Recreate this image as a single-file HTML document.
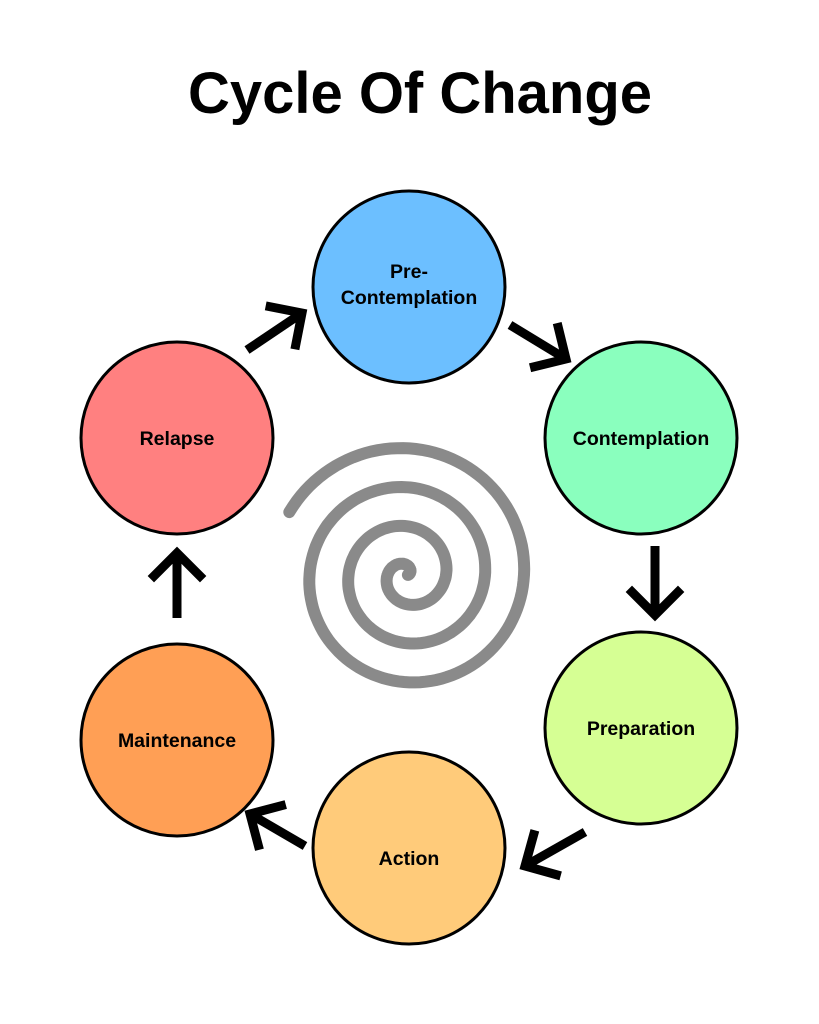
<!DOCTYPE html>
<html><head><style>
body{margin:0;background:#fff;}
svg{display:block}
text{font-family:"Liberation Sans",sans-serif;font-weight:bold;}
</style></head><body>
<svg width="819" height="1024" viewBox="0 0 819 1024">
<text x="420" y="113" font-size="58" text-anchor="middle" fill="#000">Cycle Of Change</text>
<path id="sp" fill="none" stroke="#8a8a8a" stroke-width="12" stroke-linecap="round" d=""/>
<g stroke="#000" stroke-width="3">
<circle cx="409" cy="287" r="96" fill="#6cbfff"/>
<circle cx="641" cy="438" r="96" fill="#8affbe"/>
<circle cx="641" cy="728" r="96" fill="#d6ff94"/>
<circle cx="409" cy="848" r="96" fill="#ffcb7a"/>
<circle cx="177" cy="740" r="96" fill="#ff9f55"/>
<circle cx="177" cy="438" r="96" fill="#ff8080"/>
</g>
<g font-size="19.5" text-anchor="middle" fill="#000">
<text x="409" y="278">Pre-</text>
<text x="409" y="304">Contemplation</text>
<text x="641" y="445">Contemplation</text>
<text x="641" y="735">Preparation</text>
<text x="409" y="865">Action</text>
<text x="177" y="747">Maintenance</text>
<text x="177" y="445">Relapse</text>
</g>
<g id="arr" stroke="#000" stroke-width="9" fill="none" stroke-linecap="butt" stroke-linejoin="miter"></g>
</svg>
<script>
var cx=407,cy=575,d="",tEnd=7*Math.PI-0.46;
for(var t=0.15;t<=tEnd;t+=0.05){var r=19.5*t/Math.PI;var x=cx+r*Math.cos(t),y=cy-r*Math.sin(t);d+=(d?"L":"M")+x.toFixed(1)+" "+y.toFixed(1);}
document.getElementById("sp").setAttribute("d",d);
var A=[[247,350,302,313],[510,325,566,359],[655,546,655,615],[585,832,525,866],[305,846,250,814],[177,618,177,553]];
var g=document.getElementById("arr"),h="";
A.forEach(function(a){var dx=a[2]-a[0],dy=a[3]-a[1],l=Math.hypot(dx,dy),ux=-dx/l,uy=-dy/l,L=37,c=Math.SQRT1_2;
var p1=[a[2]+L*(c*ux-c*uy),a[3]+L*(c*ux+c*uy)],p2=[a[2]+L*(c*ux+c*uy),a[3]+L*(-c*ux+c*uy)];
h+='<line x1="'+a[0]+'" y1="'+a[1]+'" x2="'+(a[2]+ux*3)+'" y2="'+(a[3]+uy*3)+'"/>';
h+='<polyline points="'+p1[0]+','+p1[1]+' '+a[2]+','+a[3]+' '+p2[0]+','+p2[1]+'"/>';});
g.innerHTML=h;
</script>
</body></html>
